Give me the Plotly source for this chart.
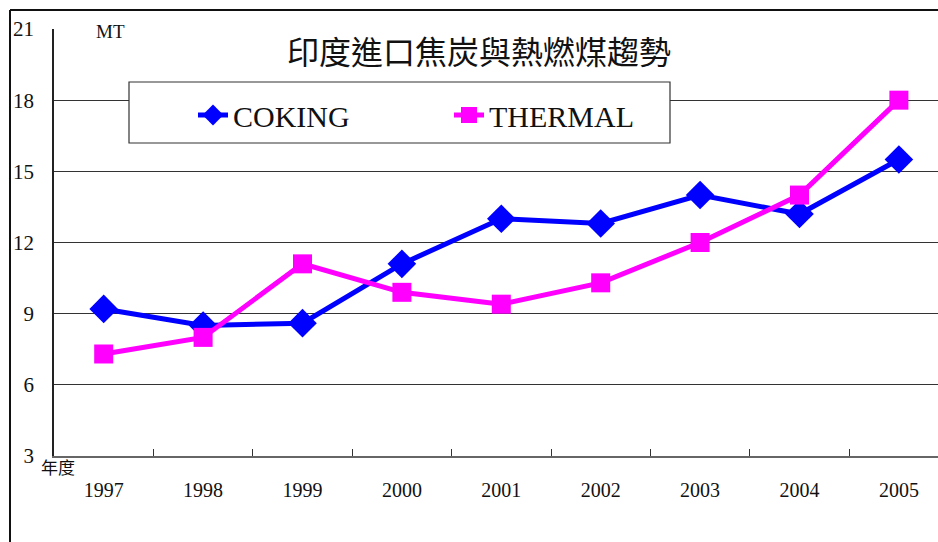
import plotly.graph_objects as go

# ---- data ----
years = ["1997", "1998", "1999", "2000", "2001", "2002", "2003", "2004", "2005"]
coking = [9.2, 8.5, 8.6, 11.1, 13.0, 12.8, 14.0, 13.2, 15.5]
thermal = [7.3, 8.0, 11.1, 9.9, 9.4, 10.3, 12.0, 14.0, 18.0]
y_ticks = [3, 6, 9, 12, 15, 18, 21]
grid_vals = [6, 9, 12, 15, 18]
title_text = "印度進口焦炭與熱燃煤趨勢"

W, H = 938, 542
L, R, T, B = 54, 0, 29, 86
PW, PH = W - L - R, H - T - B

def px(x):
    return (x - L) / PW

def py(y):
    return 1 - (y - T) / PH

xpos = list(range(len(years)))
SERIF = "Liberation Serif"
CJK = "Noto Sans CJK TC"

fig = go.Figure()
fig.add_trace(go.Scatter(
    x=xpos, y=coking, name="COKING", mode="lines+markers",
    line=dict(color="#0000FF", width=5),
    marker=dict(symbol="diamond", size=22, color="#0000FF"),
))
fig.add_trace(go.Scatter(
    x=xpos, y=thermal, name="THERMAL", mode="lines+markers",
    line=dict(color="#FF00FF", width=5),
    marker=dict(symbol="square", size=19, color="#FF00FF"),
))

fig.update_layout(
    width=W, height=H,
    margin=dict(l=L, r=R, t=T, b=B, pad=0),
    paper_bgcolor="white", plot_bgcolor="white",
    showlegend=True,
    legend=dict(
        orientation="h", x=px(193), y=py(89), xanchor="left", yanchor="top",
        font=dict(family=SERIF, size=30, color="#111"),
        bgcolor="rgba(0,0,0,0)", borderwidth=0,
        entrywidth=211, entrywidthmode="pixels", itemwidth=30,
    ),
    xaxis=dict(
        range=[-0.5, -0.5 + PW / 99.4], showgrid=False, zeroline=False,
        tickmode="array", tickvals=xpos, ticktext=years, ticks="",
        tickfont=dict(family=SERIF, size=20, color="#111"),
        ticklabelstandoff=15,
        showline=True, linecolor="#666", linewidth=2,
        minor=dict(tickmode="array", tickvals=[i + 0.5 for i in range(len(years) - 1)],
                   ticks="inside", ticklen=7, tickcolor="#333", tickwidth=1, showgrid=False),
        fixedrange=True,
    ),
    yaxis=dict(
        range=[3, 21], showgrid=False, zeroline=False,
        tickmode="array", tickvals=y_ticks, ticks="inside", ticklen=7,
        tickcolor="#333", tickwidth=1,
        tickfont=dict(family=SERIF, size=21, color="#111"),
        ticklabelstandoff=14,
        showline=True, linecolor="#222", linewidth=1.5,
        minor=dict(tickmode="array", tickvals=grid_vals, ticks="",
                   showgrid=True, gridcolor="#333", gridwidth=1),
        fixedrange=True,
    ),
)

# title and axis unit labels
fig.add_annotation(x=px(479), y=py(50), xref="paper", yref="paper",
                   xanchor="center", yanchor="middle",
                   text=title_text, showarrow=False,
                   font=dict(family=CJK, size=32, color="#111"))
fig.add_annotation(x=px(110), y=py(31), xref="paper", yref="paper",
                   xanchor="center", yanchor="middle",
                   text="MT", showarrow=False,
                   font=dict(family=SERIF, size=19, color="#111"))
fig.add_annotation(x=px(58), y=py(466), xref="paper", yref="paper",
                   xanchor="center", yanchor="middle",
                   text="年度", showarrow=False,
                   font=dict(family=CJK, size=17, color="#111"))

# legend frame
fig.add_shape(type="rect", xref="paper", yref="paper",
              x0=px(129), x1=px(670), y0=py(143), y1=py(82),
              fillcolor="white", line=dict(color="#333", width=1.2), layer="above")

# outer chart border (top and left edges visible)
fig.add_shape(type="line", xref="paper", yref="paper",
              x0=px(10), x1=px(W + 5), y0=py(10), y1=py(10),
              line=dict(color="#111", width=2))
fig.add_shape(type="line", xref="paper", yref="paper",
              x0=px(10), x1=px(10), y0=py(10), y1=py(H + 5),
              line=dict(color="#111", width=2))

fig.write_html("out.html")
